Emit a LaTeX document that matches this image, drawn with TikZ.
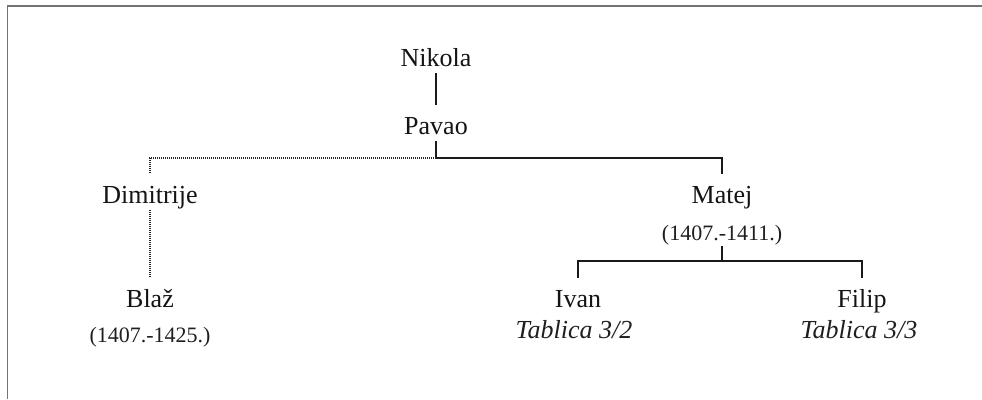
\documentclass[tikz,border=0pt]{standalone}
\usepackage{fontspec}
\setmainfont{Liberation Serif}
\begin{document}
\begin{tikzpicture}[x=1pt,y=-1pt,
  person/.style={font=\fontsize{26}{30}\selectfont, text=black!92, anchor=base,
    text height=22pt, text depth=0pt, inner xsep=2pt, inner ysep=7pt},
  dates/.style={font=\fontsize{22}{26}\selectfont, text=black!88, anchor=base,
    text height=17pt, text depth=0pt, inner xsep=2pt, inner ysep=6pt},
  tab/.style={font=\fontsize{26}{30}\selectfont\itshape, text=black!88, anchor=base, inner sep=2pt},
  solidline/.style={line width=2.6pt, black!90},
  thinline/.style={line width=2pt, black!90},
  dotline/.style={line width=2.4pt, black!85, dash pattern=on 1.2pt off 0.8pt},
  frame/.style={line width=1.6pt, black!55}]
\useasboundingbox (0,0) rectangle (982,399);
\draw[frame] (7.5,399) -- (7.5,6) -- (982,6);

\node[person] (nikola) at (436,66) {Nikola};
\node[person] (pavao) at (436,134) {Pavao};
\node[person] (dimitrije) at (150,203) {Dimitrije};
\node[person] (matej) at (722,203) {Matej};
\node[dates] (matejd) at (722,240) {(1407.-1411.)};
\node[person] (blaz) at (150,307) {Blaž};
\node[dates] (blazd) at (150,342) {(1407.-1425.)};
\node[person] (ivan) at (578,307) {Ivan};
\node[tab] (ivant) at (574,338) {Tablica 3/2};
\node[person] (filip) at (862,307) {Filip};
\node[tab] (filipt) at (859,338) {Tablica 3/3};

\coordinate (pj) at (pavao.south |- 0,158);
\coordinate (mj) at (matejd.south |- 0,261);

\draw[thinline] (nikola.south) -- (pavao.north);
\draw[solidline] (pavao.south) -- (pj) -| (matej.north);
\draw[dotline] (pj) -| (dimitrije.north);
\draw[dotline] (dimitrije.south) -- (blaz.north);
\draw[solidline] (matejd.south) -- (mj);
\draw[solidline] (ivan.north) |- (mj) -| (filip.north);
\end{tikzpicture}
\end{document}
